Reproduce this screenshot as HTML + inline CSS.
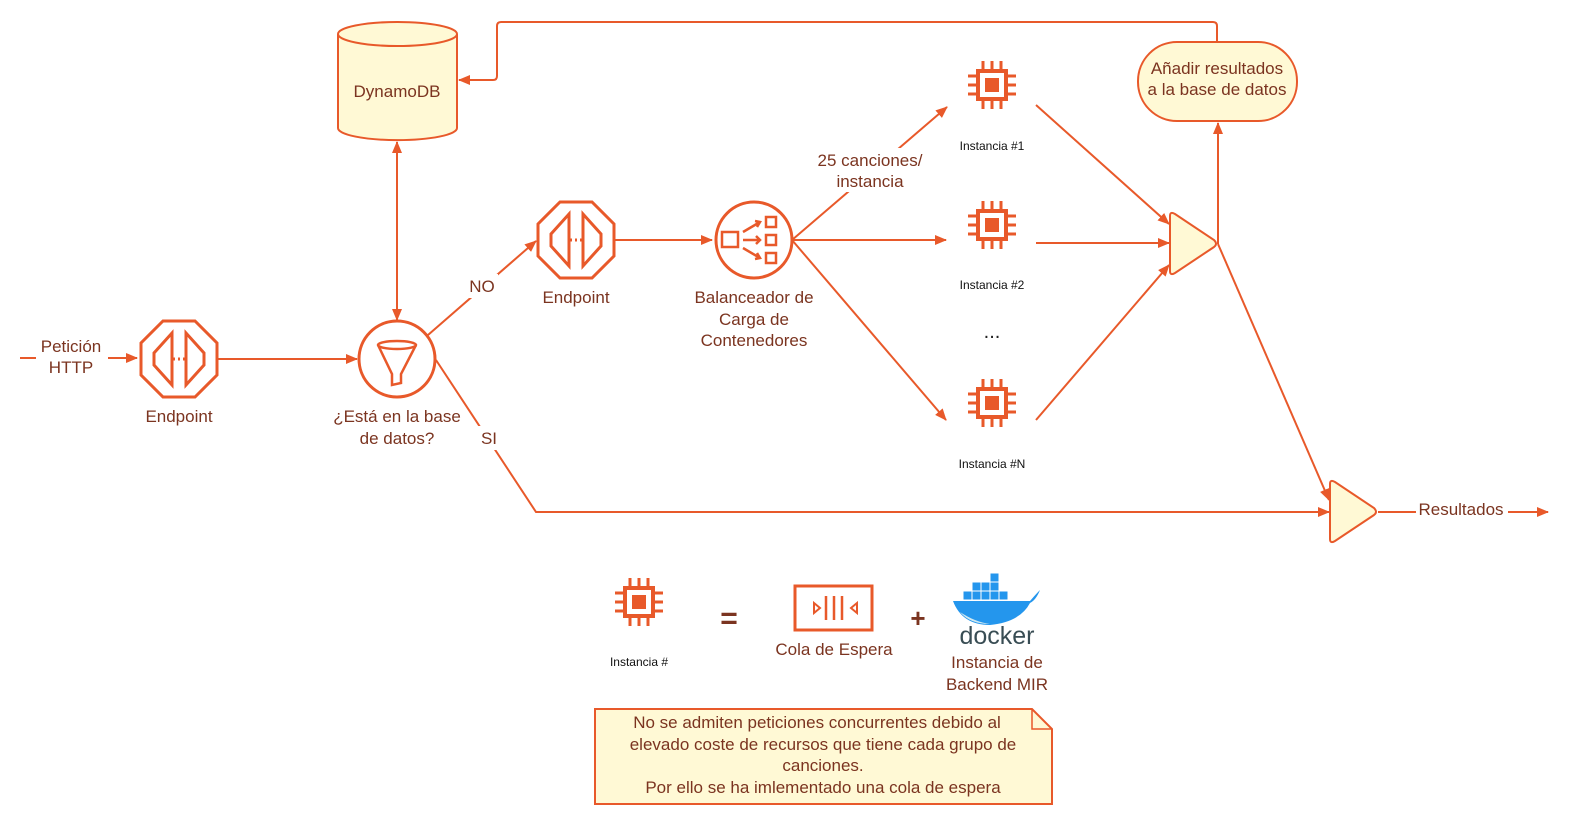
<!DOCTYPE html>
<html><head><meta charset="utf-8"><style>
html,body{margin:0;padding:0;background:#fff;}
svg{display:block;font-family:"Liberation Sans",Arial,sans-serif;}
.t{fill:#7b3420;font-size:17px;text-anchor:middle;}
.s{fill:#111;font-size:12px;text-anchor:middle;}
.l{stroke:#e8592a;stroke-width:2;fill:none;}
</style></head><body>
<svg width="1580" height="830" viewBox="0 0 1580 830">
<defs>
<marker id="a" markerWidth="12" markerHeight="10" refX="11" refY="5" orient="auto" markerUnits="userSpaceOnUse">
<path d="M0,0 L12,5 L0,10 Z" fill="#e8592a"/></marker>
<g id="chip">
<rect x="-14" y="-14" width="28" height="28" fill="none" stroke="#e8592a" stroke-width="4"/>
<rect x="-7" y="-7" width="14" height="14" fill="#e8592a"/>
<g stroke="#e8592a" stroke-width="3">
<path d="M-9,-16v-8M0,-16v-8M9,-16v-8M-9,16v8M0,16v8M9,16v8M-16,-9h-8M-16,0h-8M-16,9h-8M16,-9h8M16,0h8M16,9h8"/></g>
</g>
<g id="ep">
<polygon points="-16,-38 16,-38 38,-16 38,16 16,38 -16,38 -38,16 -38,-16" fill="#fff" stroke="#e8592a" stroke-width="3"/>
<path d="M-7,-26 L-7,26 L-25,6 L-25,-6 Z M7,-26 L7,26 L25,6 L25,-6 Z" fill="none" stroke="#e8592a" stroke-width="3"/>
<path d="M-6,0h2M-1,0h2M4,0h2" stroke="#e8592a" stroke-width="3"/>
</g>
</defs>

<!-- connectors -->
<line class="l" x1="20" y1="358" x2="137" y2="358" marker-end="url(#a)"/>
<rect x="36" y="336" width="72" height="42" fill="#fff"/>
<text class="t" x="71" y="352">Petición</text>
<text class="t" x="71" y="373">HTTP</text>
<line class="l" x1="218" y1="359" x2="357" y2="359" marker-end="url(#a)"/>
<line class="l" x1="397" y1="150" x2="397" y2="320" marker-end="url(#a)"/>
<line class="l" x1="397" y1="300" x2="397" y2="142" marker-end="url(#a)"/>
<path class="l" d="M1217,42 V26 Q1217,22 1213,22 H501 Q497,22 497,26 V76 Q497,80 493,80 H459" marker-end="url(#a)"/>
<line class="l" x1="428" y1="335" x2="536" y2="241" marker-end="url(#a)"/>
<rect x="466" y="274" width="32" height="24" fill="#fff"/>
<text class="t" x="482" y="292">NO</text>
<line class="l" x1="615" y1="240" x2="712" y2="240" marker-end="url(#a)"/>
<line class="l" x1="792" y1="240" x2="947" y2="107" marker-end="url(#a)"/>
<line class="l" x1="792" y1="240" x2="946" y2="240" marker-end="url(#a)"/>
<line class="l" x1="792" y1="240" x2="946" y2="420" marker-end="url(#a)"/>
<rect x="812" y="148" width="118" height="44" fill="#fff"/>
<text class="t" x="870" y="166">25 canciones/</text>
<text class="t" x="870" y="187">instancia</text>
<line class="l" x1="1036" y1="105" x2="1169" y2="224" marker-end="url(#a)"/>
<line class="l" x1="1036" y1="243" x2="1169" y2="243" marker-end="url(#a)"/>
<line class="l" x1="1036" y1="420" x2="1169" y2="265" marker-end="url(#a)"/>
<line class="l" x1="1218" y1="244" x2="1218" y2="123" marker-end="url(#a)"/>
<line class="l" x1="1218" y1="244" x2="1329" y2="500" marker-end="url(#a)"/>
<path class="l" d="M436,360 L536,512 H1329" marker-end="url(#a)"/>
<rect x="476" y="426" width="26" height="24" fill="#fff"/>
<text class="t" x="489" y="444">SI</text>
<line class="l" x1="1378" y1="512" x2="1548" y2="512" marker-end="url(#a)"/>
<rect x="1416" y="498" width="92" height="22" fill="#fff"/>
<text class="t" x="1461" y="515">Resultados</text>

<!-- DynamoDB -->
<path d="M338,34 V128 A59,12 0 0 0 457,128 V34" fill="#fff9d5" stroke="#e8592a" stroke-width="2"/>
<ellipse cx="397.5" cy="34" rx="59.5" ry="12" fill="#fff9d5" stroke="#e8592a" stroke-width="2"/>
<text class="t" x="397" y="97">DynamoDB</text>

<!-- endpoints -->
<use href="#ep" x="179" y="359"/>
<text class="t" x="179" y="422">Endpoint</text>
<use href="#ep" x="576" y="240"/>
<text class="t" x="576" y="303">Endpoint</text>

<!-- filter -->
<circle cx="397" cy="359" r="38" fill="#fff" stroke="#e8592a" stroke-width="3"/>
<ellipse cx="397" cy="345" rx="19" ry="4" fill="none" stroke="#e8592a" stroke-width="2.5"/>
<path d="M378,345 L392,374 L392,385 L401,383 L401,374 L416,345" fill="none" stroke="#e8592a" stroke-width="2.5"/>
<text class="t" x="397" y="422">¿Está en la base</text>
<text class="t" x="397" y="444">de datos?</text>

<!-- balancer -->
<circle cx="754" cy="240" r="38" fill="#fff" stroke="#e8592a" stroke-width="3"/>
<rect x="722" y="232" width="16" height="15" fill="none" stroke="#e8592a" stroke-width="2.5"/>
<rect x="766" y="217" width="10" height="10" fill="none" stroke="#e8592a" stroke-width="2.5"/>
<rect x="766" y="235" width="10" height="10" fill="none" stroke="#e8592a" stroke-width="2.5"/>
<rect x="766" y="253" width="10" height="10" fill="none" stroke="#e8592a" stroke-width="2.5"/>
<path d="M743,232 L760,222 M743,240 H760 M743,248 L760,258 M755,221 L760,222 L757,227 M756,236 L760,240 L756,244 M755,259 L760,258 L757,253" fill="none" stroke="#e8592a" stroke-width="2.5"/>
<text class="t" x="754" y="303">Balanceador de</text>
<text class="t" x="754" y="325">Carga de</text>
<text class="t" x="754" y="346">Contenedores</text>

<!-- instances -->
<use href="#chip" x="992" y="85"/>
<text class="s" x="992" y="150">Instancia #1</text>
<use href="#chip" x="992" y="225"/>
<text class="s" x="992" y="289">Instancia #2</text>
<text x="992" y="338" font-size="20" text-anchor="middle" fill="#222">...</text>
<use href="#chip" x="992" y="403"/>
<text class="s" x="992" y="468">Instancia #N</text>

<!-- merges -->
<path d="M1170,216 Q1170,211 1175,214 L1214,240 Q1218,244 1214,247 L1175,273 Q1170,276 1170,271 Z" fill="#fff9d5" stroke="#e8592a" stroke-width="2"/>
<path d="M1330,484 Q1330,479 1335,482 L1374,508 Q1378,512 1374,515 L1335,541 Q1330,544 1330,539 Z" fill="#fff9d5" stroke="#e8592a" stroke-width="2"/>
<rect x="1138" y="42" width="159" height="79" rx="39" fill="#fff9d5" stroke="#e8592a" stroke-width="2"/>
<text class="t" x="1217" y="74">Añadir resultados</text>
<text class="t" x="1217" y="95">a la base de datos</text>

<!-- legend -->
<use href="#chip" x="639" y="602"/>
<text class="s" x="639" y="666">Instancia #</text>
<text x="729" y="628" font-size="30" font-weight="bold" text-anchor="middle" fill="#7b3420">=</text>
<rect x="795" y="586" width="77" height="44" fill="#fff" stroke="#e8592a" stroke-width="3"/>
<path d="M826,596v24M834,596v24M842,596v24" stroke="#e8592a" stroke-width="2.5"/>
<path d="M814,603 L820,608 L814,613 Z M857,603 L851,608 L857,613 Z" fill="none" stroke="#e8592a" stroke-width="2"/>
<text class="t" x="834" y="655">Cola de Espera</text>
<text x="918" y="627" font-size="26" font-weight="bold" text-anchor="middle" fill="#7b3420">+</text>
<!-- docker whale -->
<g>
<path d="M953,601 H1030 Q1036,594 1040,590 Q1036,600 1030,603 Q1020,622 990,625 Q962,625 953,601 Z" fill="#2496ed"/>
<path d="M960,612 Q975,622 990,624 Q970,624 960,612 Z" fill="#cfe8f0"/>
<g fill="#2496ed" stroke="#fff" stroke-width="1">
<rect x="963" y="591" width="9" height="9"/><rect x="972" y="591" width="9" height="9"/><rect x="981" y="591" width="9" height="9"/><rect x="990" y="591" width="9" height="9"/><rect x="999" y="591" width="9" height="9"/>
<rect x="972" y="582" width="9" height="9"/><rect x="981" y="582" width="9" height="9"/><rect x="990" y="582" width="9" height="9"/>
<rect x="990" y="573" width="9" height="9"/>
</g>
</g>
<text x="997" y="644" font-size="25" text-anchor="middle" fill="#394d54">docker</text>
<text class="t" x="997" y="668">Instancia de</text>
<text class="t" x="997" y="690">Backend MIR</text>

<!-- note -->
<path d="M595,709 H1032 L1052,729 V804 H595 Z" fill="#fff9d5" stroke="#e8592a" stroke-width="2"/>
<path d="M1032,709 V729 H1052" fill="none" stroke="#e8592a" stroke-width="1.5"/>
<text class="t" x="817" y="728">No se admiten peticiones concurrentes debido al</text>
<text class="t" x="823" y="750">elevado coste de recursos que tiene cada grupo de</text>
<text class="t" x="823" y="771">canciones.</text>
<text class="t" x="823" y="793">Por ello se ha imlementado una cola de espera</text>
</svg>
</body></html>
